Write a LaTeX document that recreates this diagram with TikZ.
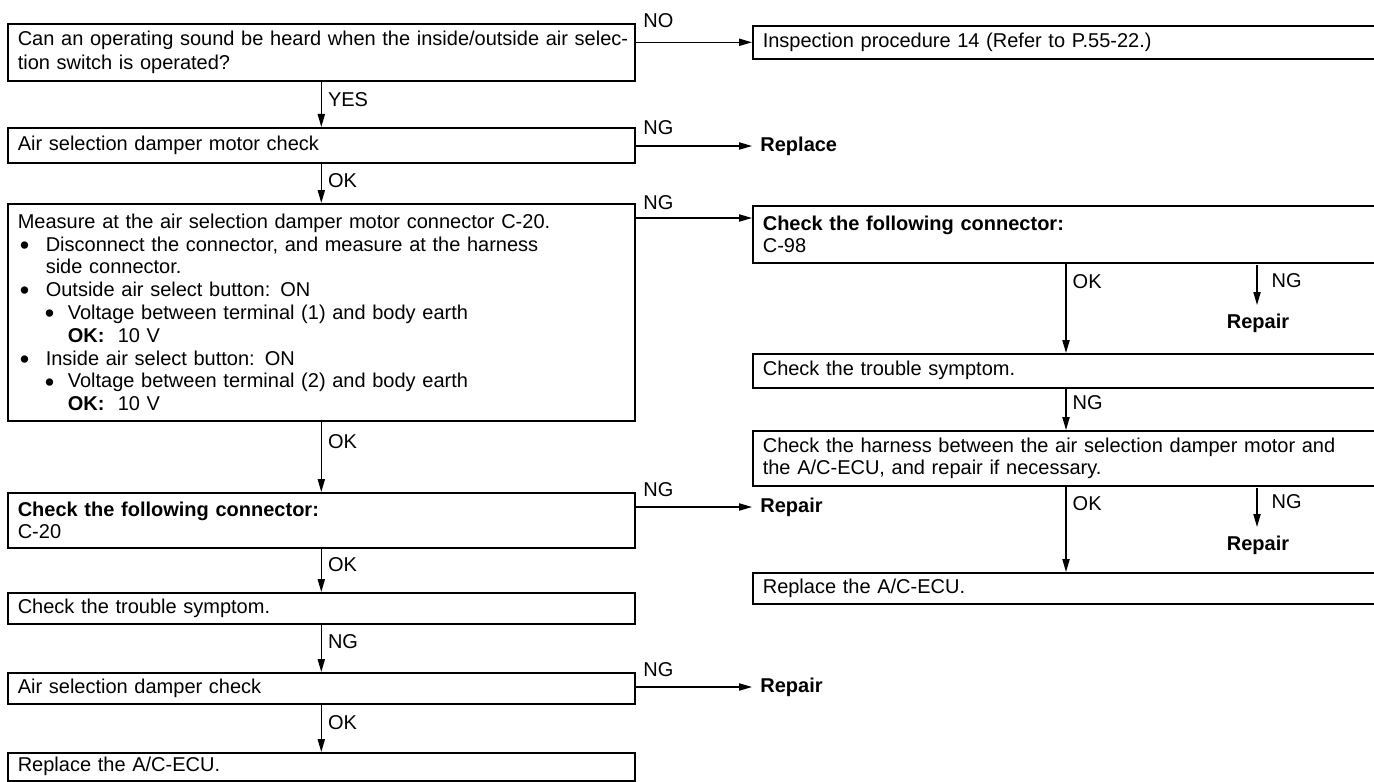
\documentclass[tikz,border=0pt]{standalone}
\usepackage{fontspec}
\setmainfont{Liberation Sans}
\usetikzlibrary{arrows.meta}
\tikzset{
    stepbox/.style={draw, line width=0.8pt, anchor=north west, align=left,
        inner xsep=5pt, inner ysep=0pt, font=\fontsize{10}{11.4}\selectfont},
    leftbox/.style={stepbox, text width=303.5pt, minimum width=313.5pt},
    rightbox/.style={stepbox, text width=309pt, minimum width=319pt},
    flow/.style={line width=0.7pt, -{Triangle[length=6.5pt,width=3.6pt]}},
    tag/.style={font=\fontsize{10}{11}\selectfont, anchor=west, inner sep=0pt},
    result/.style={tag, inner xsep=4pt, font=\fontsize{10}{11}\selectfont\bfseries},
}
\newcommand{\bigdot}{\raisebox{-1.6pt}{\scalebox{1.35}{\textbullet}}}
\newcommand{\bl}{\hspace*{1pt}\makebox[13pt][l]{\bigdot}}
\newcommand{\blb}{\hspace*{13.5pt}\makebox[11.5pt][l]{\bigdot}}

\begin{document}
\begin{tikzpicture}[x=0.5pt,y=-0.5pt]
\useasboundingbox (0,0) rectangle (1374,781);
\clip (0,0) rectangle (1374,781);

% left column
\node[leftbox, minimum height=28.5pt] (sound) at (7,23) {\mbox{Can an operating sound be heard when the inside/outside air selec-}\\[1pt]tion switch is operated?};
\node[leftbox, minimum height=17.5pt] (motor) at (7,127) {Air selection damper motor check};
\node[leftbox, minimum height=108.5pt] (measure) at (7,203) {Measure at the air selection damper motor connector C-20.\\
\bl Disconnect the connector, and measure at the harness\\
\hspace*{14pt}side connector.\\
\bl Outside air select button: ON\\
\blb Voltage between terminal (1) and body earth\\
\hspace*{25pt}\textbf{OK:}\ \ 10 V\\
\bl Inside air select button: ON\\
\blb Voltage between terminal (2) and body earth\\
\hspace*{25pt}\textbf{OK:}\ \ 10 V};
\node[leftbox, minimum height=27.5pt] (conn20) at (7,492) {\textbf{Check the following connector:}\\C-20};
\node[leftbox, minimum height=15.5pt] (symL) at (7,592) {Check the trouble symptom.};
\node[leftbox, minimum height=15.5pt] (damper) at (7,672) {Air selection damper check};
\node[leftbox, minimum height=14pt] (ecuL) at (7,752) {Replace the A/C-ECU.};

% right column
\node[rightbox, minimum height=16.5pt] (insp) at (752,25) {Inspection procedure 14 (Refer to P.55-22.)};
\node[result] (replace) at (752,146) {Replace};
\node[rightbox, minimum height=28.5pt] (conn98) at (752,205) {\textbf{Check the following connector:}\\C-98};
\node[result, anchor=center] (rep98) at (1258,323) {Repair};
\node[rightbox, minimum height=17pt] (symR) at (752,353) {Check the trouble symptom.};
\node[rightbox, minimum height=27.5pt] (harness) at (752,430) {Check the harness between the air selection damper motor and\\the A/C-ECU, and repair if necessary.};
\node[result, anchor=center] (repH) at (1258,545) {Repair};
\node[rightbox, minimum height=15.5pt] (ecuR) at (752,572) {Replace the A/C-ECU.};
\node[result] (rep20) at (752,507) {Repair};
\node[result] (repdmp) at (752,687) {Repair};

\coordinate (okx) at (1066,0);
\coordinate (m98) at (752,218);
\coordinate (ng98a) at (1257,265);
\coordinate (ng98b) at (1257,305);
\coordinate (ngHa) at (1257,488);
\coordinate (ngHb) at (1257,527);

% downward flow
\draw[flow] (sound.south) -- node[tag, pos=0.4, xshift=3pt] {YES} (motor.north);
\draw[flow] (motor.south) -- node[tag, pos=0.44, xshift=3pt] {OK} (measure.north);
\draw[flow] (measure.south) -- node[tag, pos=0.29, xshift=3pt] {OK} (conn20.north);
\draw[flow] (conn20.south) -- node[tag, pos=0.36, xshift=3pt] {OK} (symL.north);
\draw[flow] (symL.south) -- node[tag, pos=0.35, xshift=3pt] {NG} (damper.north);
\draw[flow] (damper.south) -- node[tag, pos=0.39, xshift=3pt] {OK} (ecuL.north);

\draw[flow] (conn98.south -| okx) -- node[tag, pos=0.2, xshift=3pt] {OK} (symR.north -| okx);
\draw[flow] (symR.south -| okx) -- node[tag, pos=0.35, xshift=3pt] {NG} (harness.north -| okx);
\draw[flow] (harness.south -| okx) -- node[tag, pos=0.2, xshift=3pt] {OK} (ecuR.north -| okx);
\draw[flow] (ng98a) -- node[tag, pos=0.4, xshift=7pt] {NG} (ng98b);
\draw[flow] (ngHa) -- node[tag, pos=0.35, xshift=7pt] {NG} (ngHb);

% sideways flow
\draw[flow] (insp.west -| sound.east) node[tag, xshift=3.5pt, yshift=11pt] {NO} -- (insp.west);
\draw[flow] (replace.west -| motor.east) node[tag, xshift=3.5pt, yshift=9pt] {NG} -- (replace.west);
\draw[flow] (m98 -| measure.east) node[tag, xshift=3.5pt, yshift=7.5pt] {NG} -- (m98);
\draw[flow] (rep20.west -| conn20.east) node[tag, xshift=3.5pt, yshift=8.5pt] {NG} -- (rep20.west);
\draw[flow] (repdmp.west -| damper.east) node[tag, xshift=3.5pt, yshift=8.5pt] {NG} -- (repdmp.west);
\end{tikzpicture}
\end{document}
